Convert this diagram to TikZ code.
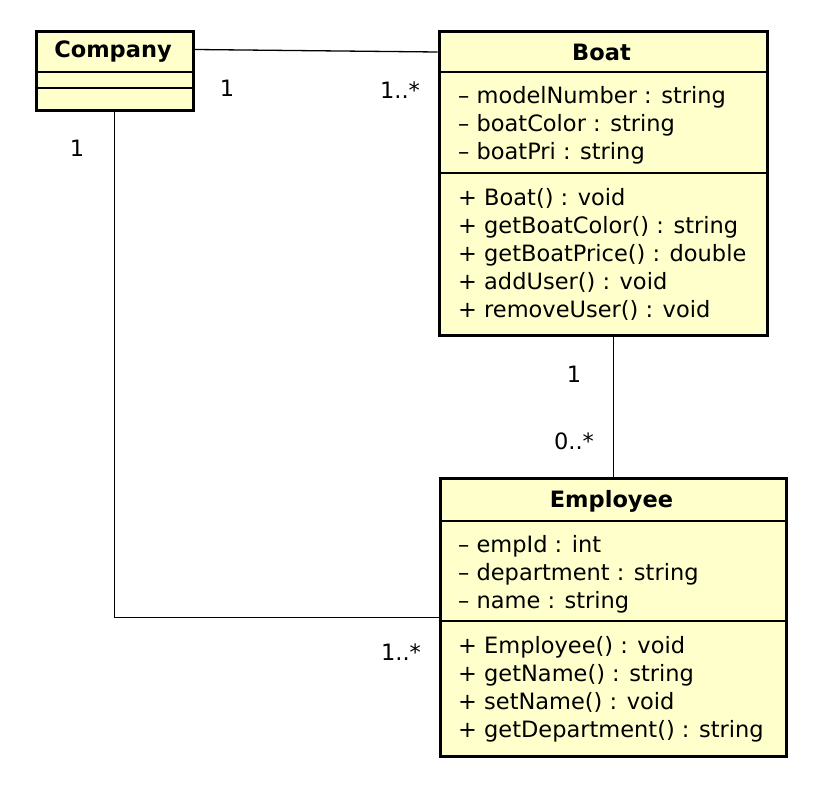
\documentclass[tikz,border=0pt]{standalone}
\usepackage{fontspec}
\setmainfont{DejaVu Sans}
\usetikzlibrary{positioning}
\definecolor{classfill}{RGB}{255,255,204}
\tikzset{
  classbox/.style={draw, line width=3.5pt, fill=classfill, inner sep=0pt, anchor=north west},
  member/.style={anchor=base west, inner sep=0pt, font=\fontsize{22.5}{27}\selectfont},
  classname/.style={anchor=base, inner sep=0pt, font=\bfseries\fontsize{22.5}{27}\selectfont},
  mult/.style={anchor=base, inner sep=0pt, font=\fontsize{22.5}{27}\selectfont},
  divider/.style={line width=1.3pt},
  assoc/.style={line width=1.3pt}
}

\begin{document}
\begin{tikzpicture}[x=1pt,y=-1pt]
		\useasboundingbox (0,0) rectangle (840,790);

		% Define classes
		\node[classbox, minimum width=157pt, minimum height=79pt] (company) at (34.5,29.5) {};
		\node[classbox, minimum width=328pt, minimum height=304pt] (boat) at (437.5,29.5) {};
		\node[classbox, minimum width=346pt, minimum height=278pt] (employee) at (438.5,476.5) {};

		% Compartments
		\draw[divider] (company.west |- 0,72) -- (company.east |- 0,72);
		\draw[divider] (company.west |- 0,88) -- (company.east |- 0,88);
		\draw[divider] (boat.west |- 0,72) -- (boat.east |- 0,72);
		\draw[divider] (boat.west |- 0,173) -- (boat.east |- 0,173);
		\draw[divider] (employee.west |- 0,521) -- (employee.east |- 0,521);
		\draw[divider] (employee.west |- 0,621) -- (employee.east |- 0,621);

		% Class names
		\node[classname] (company-name) at (113,57) {Company};
		\node[classname] (boat-name) at (601.5,60) {Boat};
		\node[classname] (employee-name) at (611.5,507) {Employee};

		% Members
		\foreach \txt [count=\i] in {{– modelNumber : string}, {– boatColor : string}, {– boatPri : string}}
			\node[member] (boat-a\i) at (458,75+28*\i) {\txt};
		\foreach \txt [count=\i] in {{+ Boat() : void}, {+ getBoatColor() : string}, {+ getBoatPrice() : double}, {+ addUser() : void}, {+ removeUser() : void}}
			\node[member] (boat-o\i) at (458,177+28*\i) {\txt};
		\foreach \txt [count=\i] in {{– empId : int}, {– department : string}, {– name : string}}
			\node[member] (employee-a\i) at (458,524+28*\i) {\txt};
		\foreach \txt [count=\i] in {{+ Employee() : void}, {+ getName() : string}, {+ setName() : void}, {+ getDepartment() : string}}
			\node[member] (employee-o\i) at (458,625+28*\i) {\txt};

		% Connect the classes
		\draw[assoc] ([yshift=-20pt]company.north east) -- ([yshift=-22.5pt]boat.north west);
		\draw[assoc] (company.south) |- (employee.west);
		\draw[assoc] (boat.south -| employee.north) -- (employee.north);

		% Multiplicities
		\node[mult] (m-company-boat) at (227,96) {1};
		\node[mult] (m-boat-company) at (400,98) {1..*};
		\node[mult] (m-company-emp) at (77,156) {1};
		\node[mult] (m-emp-company) at (401,660) {1..*};
		\node[mult] (m-boat-emp) at (574,382) {1};
		\node[mult] (m-emp-boat) at (574,449) {0..*};
	\end{tikzpicture}
\end{document}
